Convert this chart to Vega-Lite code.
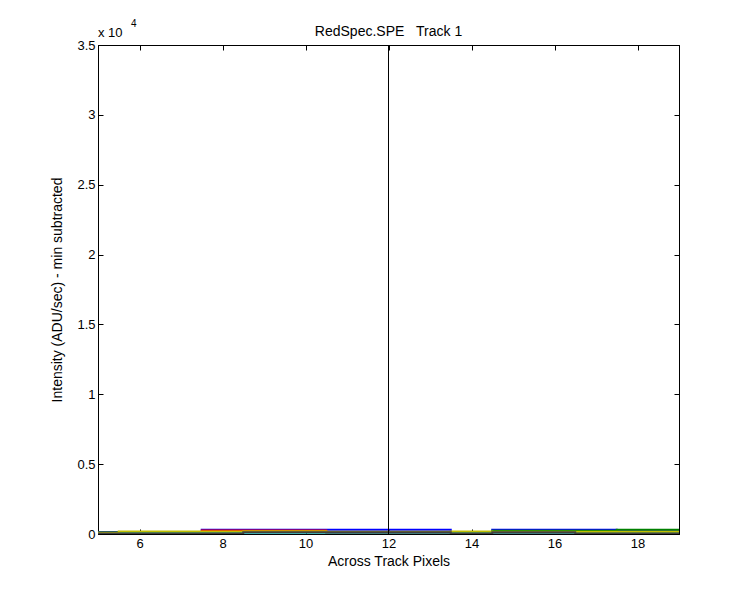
{
  "$schema": "https://vega.github.io/schema/vega-lite/v6.json",
  "autosize": "none",
  "width": 581,
  "height": 489,
  "padding": {"left": 98, "top": 45, "right": 71, "bottom": 66},
  "background": "white",
  "config": {
    "view": {"stroke": "black", "strokeWidth": 1},
    "font": "Liberation Sans",
    "axis": {"grid": false, "domainColor": "black", "tickColor": "black", "labelColor": "black", "titleColor": "black", "labelFont": "Liberation Sans", "titleFont": "Liberation Sans", "labelFontSize": 13, "titleFontSize": 14, "titleFontWeight": "normal", "tickSize": -5}
  },
  "title": {"text": "RedSpec.SPE\u00a0\u00a0\u00a0Track 1", "font": "Liberation Sans", "fontSize": 14, "fontWeight": "normal", "color": "black", "offset": -20},
  "layer": [
    {
      "data": {"values": [
        {"x":5,"y":140,"s":"a"},{"x":6,"y":100,"s":"a"},{"x":7,"y":100,"s":"a"},{"x":8,"y":300,"s":"a"},{"x":9,"y":300,"s":"a"},{"x":10,"y":300,"s":"a"},{"x":11,"y":300,"s":"a"},{"x":12,"y":300,"s":"a"},{"x":13,"y":300,"s":"a"},{"x":14,"y":150,"s":"a"},{"x":15,"y":300,"s":"a"},{"x":16,"y":300,"s":"a"},{"x":17,"y":300,"s":"a"},{"x":18,"y":220,"s":"a"},{"x":19,"y":220,"s":"a"},
        {"x":5,"y":100,"s":"b"},{"x":6,"y":150,"s":"b"},{"x":7,"y":150,"s":"b"},{"x":8,"y":150,"s":"b"},{"x":9,"y":150,"s":"b"},{"x":10,"y":150,"s":"b"},{"x":11,"y":150,"s":"b"},{"x":12,"y":150,"s":"b"},{"x":13,"y":150,"s":"b"},{"x":14,"y":150,"s":"b"},{"x":15,"y":230,"s":"b"},{"x":16,"y":230,"s":"b"},{"x":17,"y":230,"s":"b"},{"x":18,"y":300,"s":"b"},{"x":19,"y":300,"s":"b"},
        {"x":5,"y":80,"s":"c"},{"x":6,"y":80,"s":"c"},{"x":7,"y":80,"s":"c"},{"x":8,"y":250,"s":"c"},{"x":9,"y":250,"s":"c"},{"x":10,"y":250,"s":"c"},{"x":11,"y":80,"s":"c"},{"x":12,"y":80,"s":"c"},{"x":13,"y":80,"s":"c"},{"x":14,"y":80,"s":"c"},{"x":15,"y":80,"s":"c"},{"x":16,"y":80,"s":"c"},{"x":17,"y":80,"s":"c"},{"x":18,"y":80,"s":"c"},{"x":19,"y":80,"s":"c"},
        {"x":5,"y":60,"s":"d"},{"x":6,"y":90,"s":"d"},{"x":7,"y":90,"s":"d"},{"x":8,"y":90,"s":"d"},{"x":9,"y":90,"s":"d"},{"x":10,"y":90,"s":"d"},{"x":11,"y":90,"s":"d"},{"x":12,"y":90,"s":"d"},{"x":13,"y":90,"s":"d"},{"x":14,"y":90,"s":"d"},{"x":15,"y":90,"s":"d"},{"x":16,"y":90,"s":"d"},{"x":17,"y":90,"s":"d"},{"x":18,"y":90,"s":"d"},{"x":19,"y":90,"s":"d"},
        {"x":5,"y":90,"s":"f"},{"x":6,"y":180,"s":"f"},{"x":7,"y":180,"s":"f"},{"x":8,"y":180,"s":"f"},{"x":9,"y":200,"s":"f"},{"x":10,"y":200,"s":"f"},{"x":11,"y":170,"s":"f"},{"x":12,"y":170,"s":"f"},{"x":13,"y":170,"s":"f"},{"x":14,"y":180,"s":"f"},{"x":15,"y":160,"s":"f"},{"x":16,"y":160,"s":"f"},{"x":17,"y":160,"s":"f"},{"x":18,"y":160,"s":"f"},{"x":19,"y":160,"s":"f"},
        {"x":5,"y":30,"s":"g"},{"x":6,"y":30,"s":"g"},{"x":7,"y":30,"s":"g"},{"x":8,"y":30,"s":"g"},{"x":9,"y":130,"s":"g"},{"x":10,"y":130,"s":"g"},{"x":11,"y":130,"s":"g"},{"x":12,"y":130,"s":"g"},{"x":13,"y":130,"s":"g"},{"x":14,"y":30,"s":"g"},{"x":15,"y":130,"s":"g"},{"x":16,"y":130,"s":"g"},{"x":17,"y":30,"s":"g"},{"x":18,"y":30,"s":"g"},{"x":19,"y":30,"s":"g"}
      ]},
      "mark": {"type": "line", "interpolate": "step", "strokeWidth": 2, "clip": true},
      "encoding": {
        "x": {"field": "x", "type": "quantitative", "scale": {"domain": [5, 19], "nice": false, "zero": false},
              "axis": {"orient": "bottom", "values": [6, 8, 10, 12, 14, 16, 18], "title": "Across Track Pixels", "labelPadding": 8, "titlePadding": 4}},
        "y": {"field": "y", "type": "quantitative", "scale": {"domain": [0, 35000], "nice": false},
              "axis": {"orient": "left", "values": [0, 5000, 10000, 15000, 20000, 25000, 30000, 35000], "labelExpr": "datum.value / 10000", "title": "Intensity (ADU/sec) - min subtracted", "labelPadding": 8, "titlePadding": 12}},
        "color": {"field": "s", "type": "nominal", "legend": null,
                  "scale": {"domain": ["a", "b", "c", "d", "f", "g"], "range": ["#0000ff", "#008000", "#ff0000", "#00bfbf", "#bfbf00", "#404040"]}}
      }
    },
    {
      "data": {"values": [{"x": 12, "y0": 0, "y1": 35000}]},
      "mark": {"type": "rule", "color": "black", "strokeWidth": 1},
      "encoding": {
        "x": {"field": "x", "type": "quantitative", "axis": {"orient": "top", "values": [6, 8, 10, 12, 14, 16, 18], "labels": false, "title": null}},
        "y": {"field": "y0", "type": "quantitative", "axis": {"orient": "right", "values": [0, 5000, 10000, 15000, 20000, 25000, 30000, 35000], "labels": false, "title": null}},
        "y2": {"field": "y1"}
      }
    },
    {
      "data": {"values": [{"x": 5, "y": 35000, "t": "x 10", "e": "4"}]},
      "layer": [
        {
          "mark": {"type": "text", "align": "left", "baseline": "alphabetic", "dx": 0, "dy": -8, "fontSize": 13, "font": "Liberation Sans", "color": "black"},
          "encoding": {"x": {"field": "x", "type": "quantitative", "axis": null}, "y": {"field": "y", "type": "quantitative", "axis": null}, "text": {"field": "t"}}
        },
        {
          "mark": {"type": "text", "align": "left", "baseline": "alphabetic", "dx": 33, "dy": -18, "fontSize": 10, "font": "Liberation Sans", "color": "black"},
          "encoding": {"x": {"field": "x", "type": "quantitative", "axis": null}, "y": {"field": "y", "type": "quantitative", "axis": null}, "text": {"field": "e"}}
        }
      ]
    }
  ],
  "resolve": {"axis": {"x": "independent", "y": "independent"}}
}
